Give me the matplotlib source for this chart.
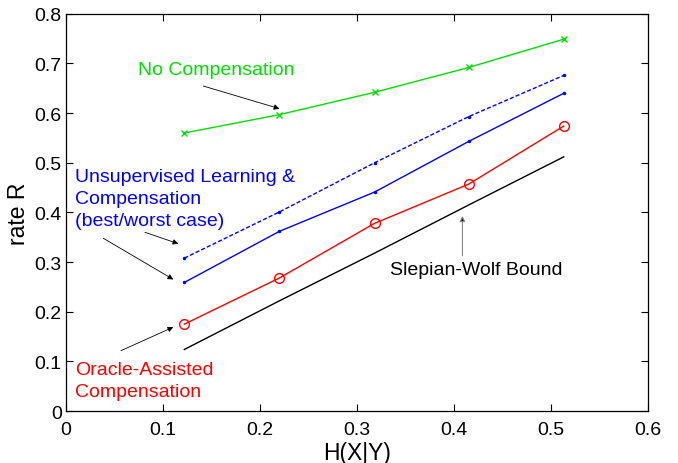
import numpy as np
import matplotlib.pyplot as plt

plt.rcParams['font.family'] = ['Liberation Sans', 'DejaVu Sans']

# H(X|Y) values and rates
h = [0.122, 0.220, 0.318, 0.415, 0.513]
no_comp = [0.560, 0.597, 0.642, 0.692, 0.749]
unsup_worst = [0.308, 0.401, 0.500, 0.593, 0.676]
unsup_best = [0.259, 0.362, 0.441, 0.543, 0.640]
oracle = [0.175, 0.268, 0.378, 0.457, 0.574]
sw_bound = [0.124, 0.222, 0.318, 0.415, 0.512]

fig = plt.figure(figsize=(6.78, 4.64), dpi=100)
ax = fig.add_axes([0.0973, 0.112, 0.8587, 0.856])

ax.plot(h, no_comp, color='#00e000', lw=1.0, marker='x', ms=5, mew=1.0)
ax.plot(h, unsup_worst, color='#0000ff', lw=1.0, ls='--', dashes=(3, 1.5), marker='.', ms=3)
ax.plot(h, unsup_best, color='#0000ff', lw=1.0, marker='.', ms=3)
ax.plot(h, oracle, color='#ff0000', lw=1.0, marker='o', ms=7, mfc='none', mew=1.0)
ax.plot(h, sw_bound, color='k', lw=1.0)

fs = 14
arr = dict(arrowstyle='-|>', lw=0.6, color='k', mutation_scale=8, shrinkA=0, shrinkB=0)
ax.text(0.0746, 0.688, 'No Compensation', color='#00e000', fontsize=fs, va='center')
ax.annotate('', xy=(0.220, 0.609), xytext=(0.1416, 0.6546), arrowprops=arr)

ax.text(0.009, 0.428, 'Unsupervised Learning &\nCompensation\n(best/worst case)',
        color='#0000ff', fontsize=fs, va='center', linespacing=1.38)
ax.annotate('', xy=(0.1158, 0.337), xytext=(0.0814, 0.360), arrowprops=arr)
ax.annotate('', xy=(0.1106, 0.265), xytext=(0.0385, 0.348), arrowprops=arr)

ax.text(0.009, 0.062, 'Oracle-Assisted\nCompensation', color='#ff0000', fontsize=fs,
        va='center', linespacing=1.38)
ax.annotate('', xy=(0.1106, 0.169), xytext=(0.0567, 0.1216), arrowprops=arr)

ax.text(0.334, 0.286, 'Slepian-Wolf Bound', color='k', fontsize=fs, va='center')
ax.annotate('', xy=(0.4086, 0.393), xytext=(0.4086, 0.313),
            arrowprops=dict(arrowstyle='-|>', lw=0.8, color='#888888', mutation_scale=8,
                            shrinkA=0, shrinkB=0, fc='k'))

ax.set_xlim(0, 0.6)
ax.set_ylim(0, 0.8)
ax.set_xticks(np.arange(0, 0.61, 0.1))
ax.set_yticks(np.arange(0, 0.81, 0.1))
ax.set_xticklabels(['0', '0.1', '0.2', '0.3', '0.4', '0.5', '0.6'])
ax.set_yticklabels(['0', '0.1', '0.2', '0.3', '0.4', '0.5', '0.6', '0.7', '0.8'])
ax.tick_params(direction='in', top=True, right=True, labelsize=14, length=5, width=0.8)
ax.tick_params(axis='x', pad=7)
ax.tick_params(axis='y', pad=3)
for s in ax.spines.values():
    s.set_linewidth(0.9)
ax.set_xlabel('H(X|Y)', fontsize=16.5, labelpad=2)
ax.set_ylabel('rate R', fontsize=16.5, labelpad=3)

fig.savefig('out.png', dpi=100)
